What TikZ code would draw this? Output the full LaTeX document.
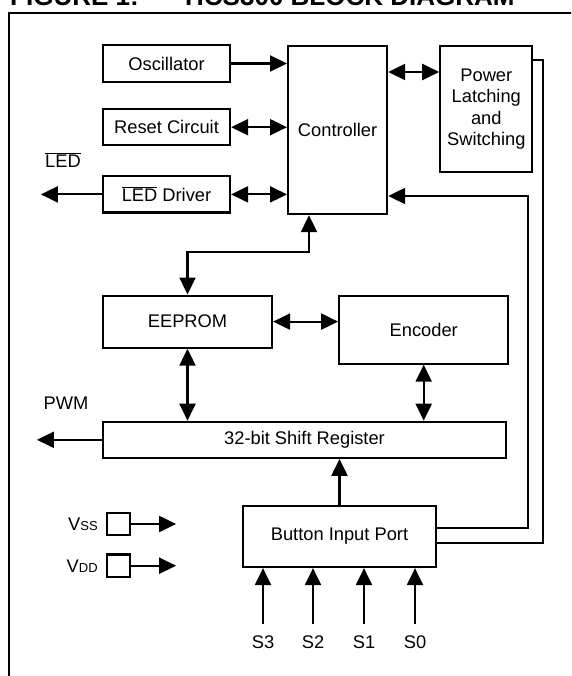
\documentclass[tikz,border=0pt]{standalone}
\usepackage{fontspec}
\setmainfont{Liberation Sans}
\usetikzlibrary{arrows.meta,positioning,calc}
\definecolor{ink}{HTML}{000000}
\tikzset{
  every node/.style={font=\fontsize{18.3}{21.5}\selectfont, text=ink},
  box/.style={draw=ink, line width=2.2pt, fill=white, align=center, inner sep=0pt},
  pinbox/.style={box, minimum width=23pt, minimum height=22.5pt},
  title/.style={font=\fontsize{26}{30}\selectfont\bfseries, text=ink, inner sep=0pt},
  arrow/.style={-{Triangle[length=17pt,width=16pt]}, line width=2.2pt, draw=ink},
  dblarrow/.style={{Triangle[length=17pt,width=16pt]}-{Triangle[length=17pt,width=16pt]}, line width=2.2pt, draw=ink},
  wire/.style={line width=2.2pt, draw=ink},
  pinlabel/.style={inner sep=0pt},
  inlabel/.style={inner ysep=11pt, inner xsep=0pt},
}
\begin{document}
\begin{tikzpicture}[x=1pt,y=-1pt]
\useasboundingbox (0,0) rectangle (571,676);
\clip (0,0) rectangle (571,676);
\draw[wire] (9,700) -- (9,13) -- (590,13);
\node[title, anchor=base west] (fig) at (10,5.5) {FIGURE 1:};
\node[title, anchor=base west] (ttl) at (185,5.5) {HCS300 BLOCK DIAGRAM};
% left column and controller
\node[box, minimum width=127pt, minimum height=37pt] (osc) at (166.5,63.5) {Oscillator};
\node[box, below=25pt of osc, minimum width=127pt, minimum height=36pt] (rst) {Reset Circuit};
\node[box, below=29pt of rst, minimum width=127pt, minimum height=36pt] (led) {$\overline{\mbox{LED}}$ Driver};
\node[box, anchor=north west, minimum width=99pt, minimum height=168pt] (ctrl) at (287,45) {Controller};
\node[box, right=51pt of ctrl.north east, anchor=north west, minimum width=92pt, minimum height=126pt] (pwr) {Power\\Latching\\and\\Switching};
\node (ledlbl) at (63,160) {$\overline{\mbox{LED}}$};
\coordinate (ledout) at ([xshift=-61pt]led.west);
\draw[arrow](osc.east)--(osc.east-|ctrl.west);\draw[dblarrow](rst.east)--(rst.east-|ctrl.west);\draw[dblarrow](led.east)--(led.east-|ctrl.west);
\draw[arrow](led.west)--(ledout);
\coordinate (cp) at ([yshift=-27pt]ctrl.north east);
\draw[dblarrow](cp)--(cp-|pwr.west);
% memory and shift register
\node[box, below=81pt of led.south west, anchor=north west, minimum width=169pt, minimum height=52pt] (eep) {EEPROM};
\node[box, right=65pt of eep.north east, anchor=north west, minimum width=169pt, minimum height=68pt] (enc) {Encoder};
\node[box, below=72pt of eep.south west, anchor=north west, minimum width=403pt, minimum height=36pt] (sreg) {32-bit Shift Register};
\coordinate (ce) at ([xshift=22pt]ctrl.south west);
\draw[dblarrow](ce)--++(0,37)-|(eep.north);
\draw[dblarrow](eep.east)--(eep.east-|enc.west);\draw[dblarrow](eep.south)--(eep.south|-sreg.north);\draw[dblarrow](enc.south)--(enc.south|-sreg.north);
\node (pwm) at (66,403) {PWM};
\coordinate (pwmout) at ([xshift=-65pt]sreg.west);
\draw[arrow](sreg.west)--(pwmout);
% inputs
\node[box, minimum width=193pt, minimum height=61pt] (btn) at (339.5,536.5) {Button Input Port};
\draw[arrow](btn.north)--(btn.north|-sreg.south);
\coordinate (busa) at (528,196);\coordinate (busb) at (543,60);
\draw[arrow]([yshift=8.5pt]btn.east)-|(busa)--(busa-|ctrl.east);
\draw[wire]([yshift=-6.5pt]btn.east)-|(busb)--(busb-|pwr.east);
\node[inlabel] (s3) at (263,642) {S3};\node[inlabel] (s2) at (313,642) {S2};
\node[inlabel] (s1) at (364,642) {S1};\node[inlabel] (s0) at (415,642) {S0};
\draw[arrow](s3.north)--(s3.north|-btn.south);\draw[arrow](s2.north)--(s2.north|-btn.south);
\draw[arrow](s1.north)--(s1.north|-btn.south);\draw[arrow](s0.north)--(s0.north|-btn.south);
% supply pins
\node[pinbox] (vss) at (118.5,524) {};
\node[pinbox, below=17pt of vss] (vdd) {};
\node[pinlabel, left=8pt of vss] (vsslbl) {V{\fontsize{13}{13}\selectfont SS}};
\node[pinlabel, left=8pt of vdd] (vddlbl) {V{\fontsize{13}{13}\selectfont DD}};
\coordinate (vssout) at ([xshift=45pt]vss.east);\coordinate (vddout) at ([xshift=45pt]vdd.east);
\draw[arrow](vss.east)--(vssout);\draw[arrow](vdd.east)--(vddout);
\end{tikzpicture}
\end{document}
